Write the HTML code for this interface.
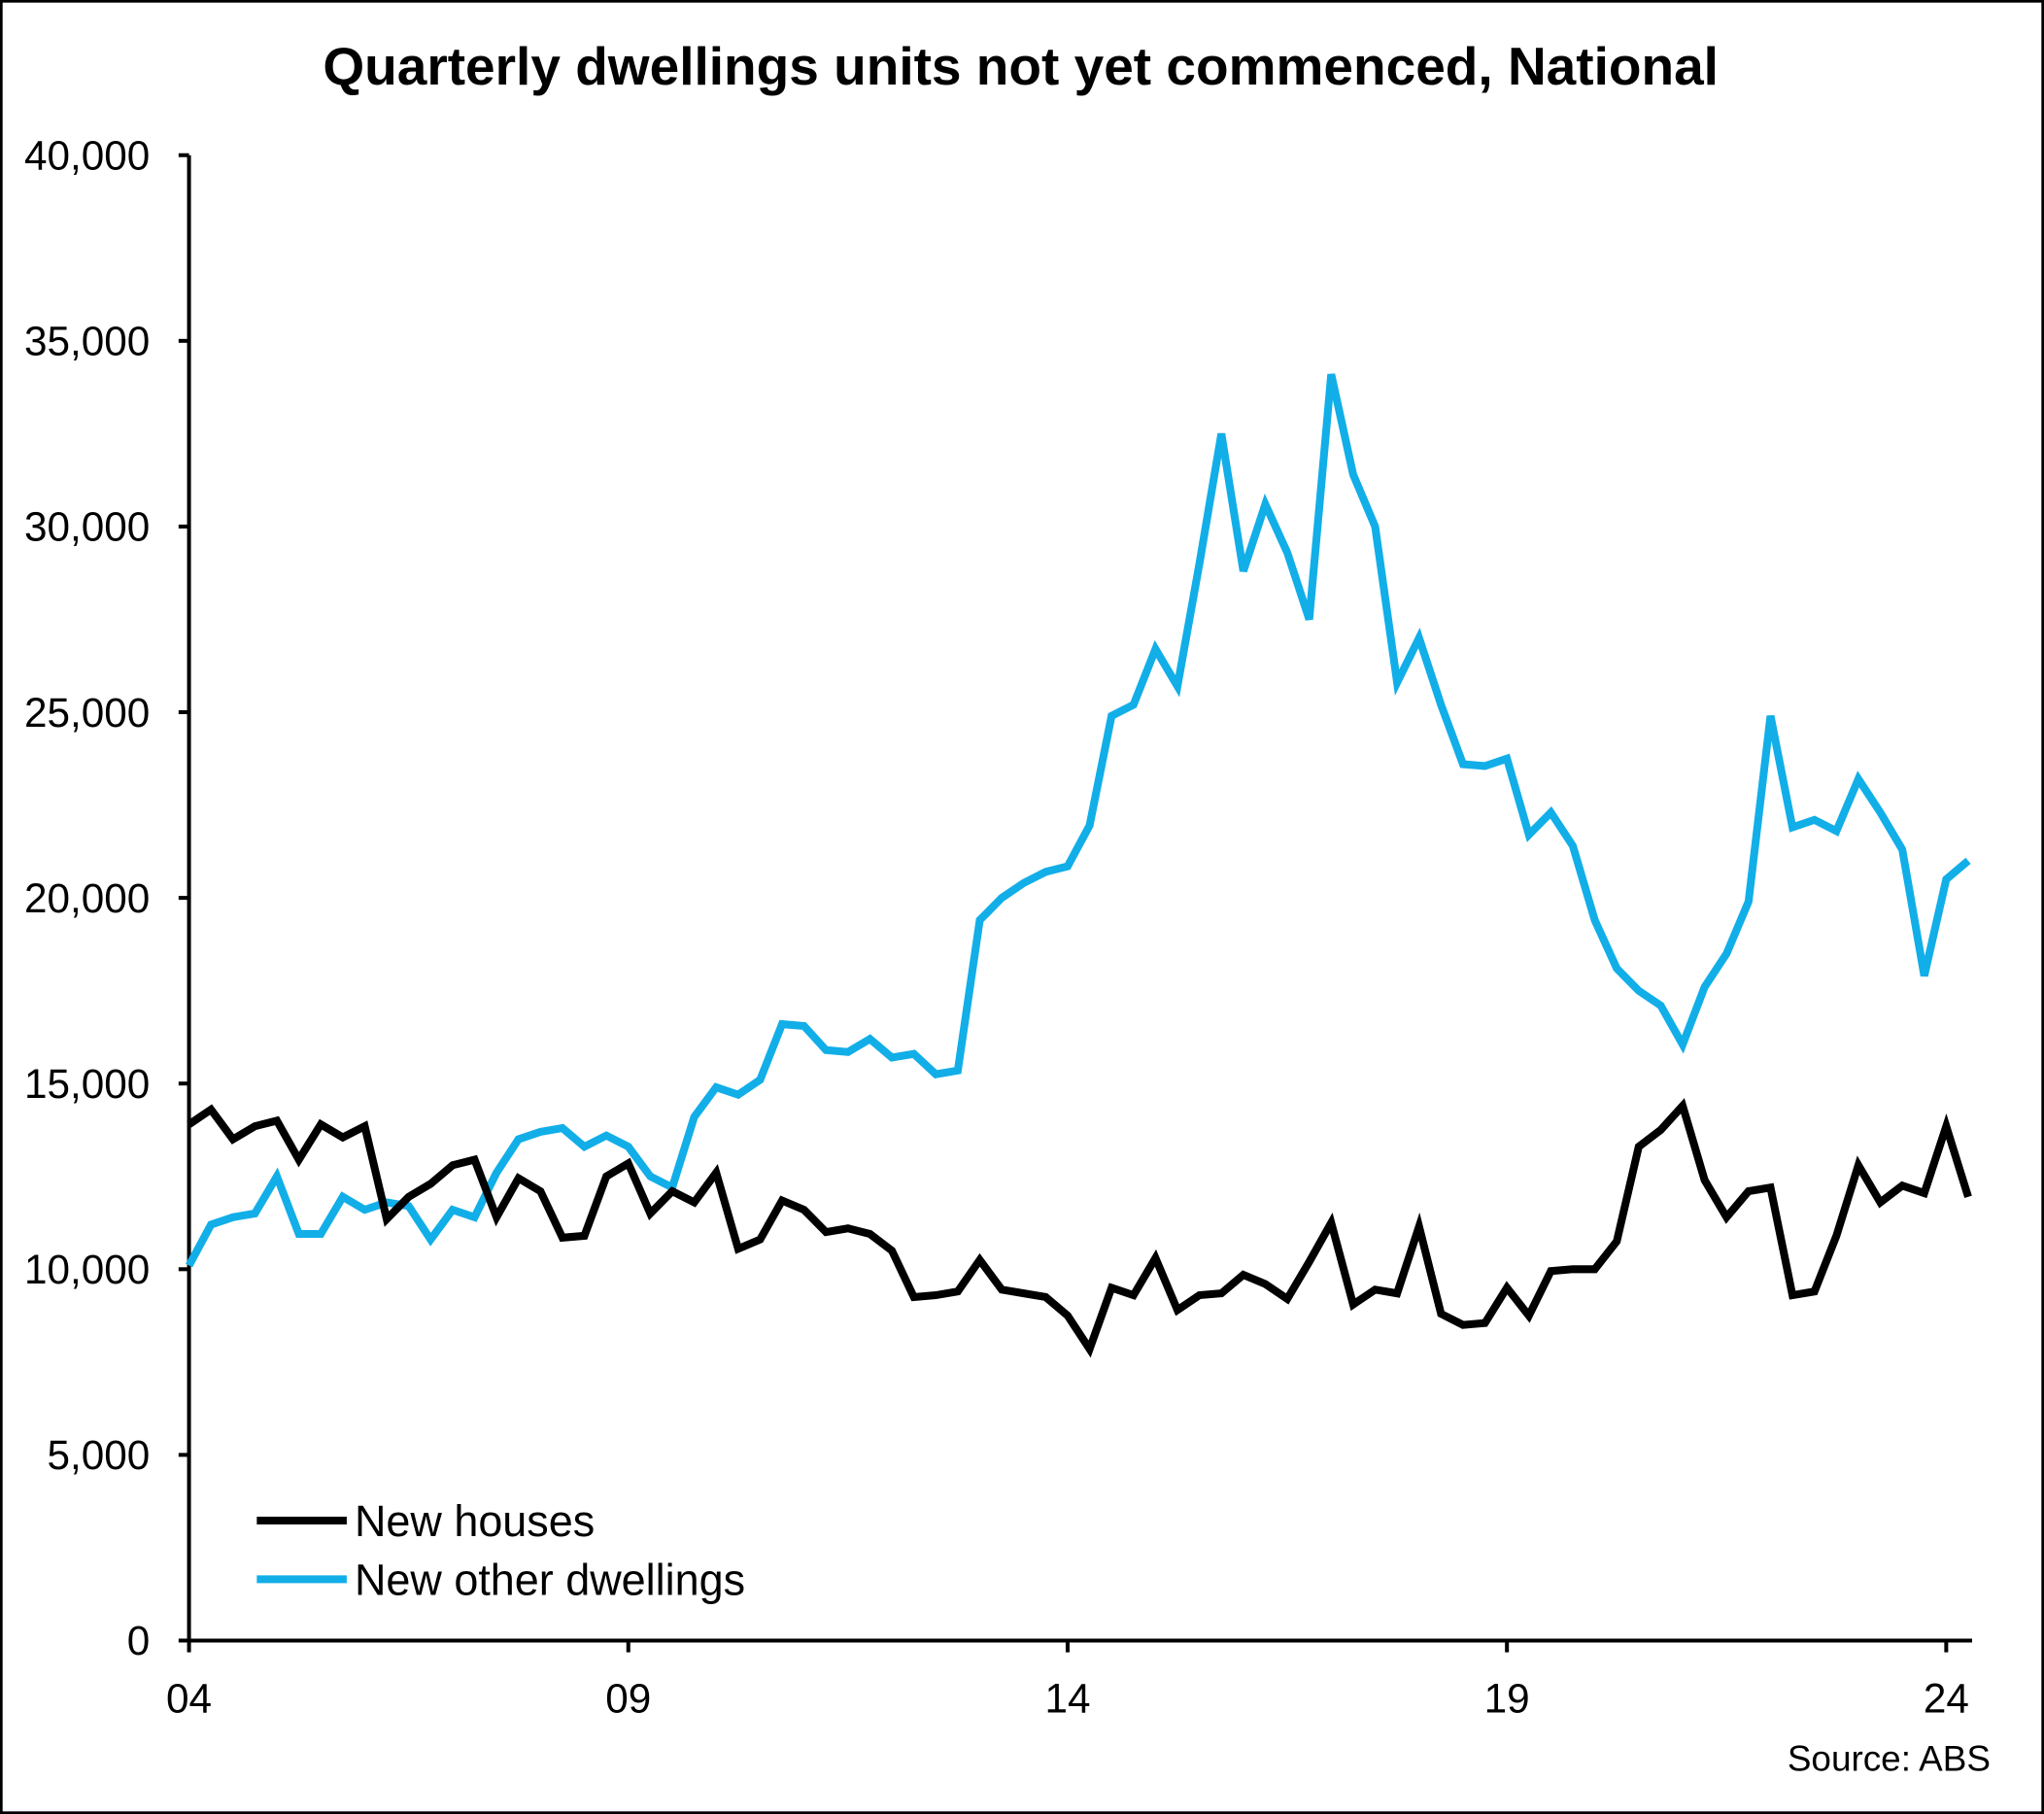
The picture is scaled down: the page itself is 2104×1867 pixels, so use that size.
<!DOCTYPE html>
<html><head><meta charset="utf-8"><style>
html,body{margin:0;padding:0;background:#fff}
svg{display:block}
text{font-family:"Liberation Sans",Arial,sans-serif;fill:#000}
</style></head><body>
<svg id="chart" width="2104" height="1867" viewBox="0 0 1568 1391" preserveAspectRatio="none" xmlns="http://www.w3.org/2000/svg">
<rect x="1" y="1" width="1566" height="1389" fill="#fff" stroke="#000" stroke-width="2"/>
<text x="783" y="65" text-anchor="middle" font-size="41" font-weight="bold">Quarterly dwellings units not yet commenced, National</text>
<g id="axes"></g>
<g id="series"></g>
<g>
<line x1="197" y1="1166" x2="266" y2="1166" stroke="#000" stroke-width="6"/>
<text x="272" y="1178" font-size="33.5">New houses</text>
<line x1="197" y1="1211" x2="266" y2="1211" stroke="#12aee8" stroke-width="6"/>
<text x="272" y="1223" font-size="33.5">New other dwellings</text>
</g>
<text x="1527" y="1358" text-anchor="end" font-size="27.5">Source: ABS</text>
</svg>
<script>
const yTicks=[0,5000,10000,15000,20000,25000,30000,35000,40000];
const xTickLabels=["04","09","14","19","24"];
const xTickIndex=[0,20,40,60,80];
const housesValues=[13900,14300,13500,13850,14000,12950,13900,13550,13850,11350,11950,12300,12800,12950,11400,12450,12100,10850,10900,12500,12850,11500,12100,11800,12600,10550,10800,11850,11600,11000,11100,10950,10500,9250,9300,9400,10250,9450,9350,9250,8750,7850,9500,9300,10300,8900,9300,9350,9850,9600,9200,10200,11250,9050,9450,9350,11150,8800,8500,8550,9500,8750,9950,10000,10000,10750,13300,13750,14400,12400,11400,12100,12200,9300,9400,10900,12800,11800,12250,12050,13850,11950];
const otherValues=[10100,11200,11400,11500,12500,10950,10950,11950,11600,11800,11700,10800,11600,11400,12600,13500,13700,13800,13300,13600,13300,12500,12200,14100,14900,14700,15100,16600,16550,15900,15850,16200,15700,15800,15250,15350,19400,20000,20400,20700,20850,21950,24900,25200,26700,25700,29000,32500,28800,30600,29300,27500,34100,31400,30000,25800,27000,25200,23600,23550,23750,21700,22300,21400,19400,18100,17500,17100,16050,17600,18500,19900,24900,21900,22100,21800,23200,22300,21300,17900,20500,21000];
const NS="http://www.w3.org/2000/svg";
const X0=145,QW=16.85,Y0=1258,Y1=119;
function xs(i){return X0+QW*i;}
function ys(v){return Y0-(v/40000)*(Y0-Y1);}
function mk(tag,attrs,parent){const e=document.createElementNS(NS,tag);for(const k in attrs)e.setAttribute(k,attrs[k]);parent.appendChild(e);return e;}
const axes=document.getElementById('axes');
const yAxis=mk('line',{x1:X0,y1:Y1,x2:X0,y2:Y0,stroke:'#000','stroke-width':3},axes);


const xEnd=xs(housesValues.length-1)+3;
const xAxis=mk('line',{x1:X0,y1:Y0,x2:xEnd,y2:Y0,stroke:'#000','stroke-width':3},axes);


yTicks.forEach(v=>{
  const y=ys(v);
  const t=mk('line',{x1:X0-8,y1:y,x2:X0,y2:y,stroke:'#000','stroke-width':3},axes);
  
  
  const l=mk('text',{x:X0-30,y:y+11,'text-anchor':'end','font-size':31.5},axes);
  
  
  l.textContent=v.toLocaleString('en-US');
});
xTickLabels.forEach((s,k)=>{
  const x=xs(xTickIndex[k]);
  const t=mk('line',{x1:x,y1:Y0,x2:x,y2:Y0+9,stroke:'#000','stroke-width':3},axes);
  
  
  const l=mk('text',{x:x,y:Y0+55,'text-anchor':'middle','font-size':31.5},axes);
  
  
  l.textContent=s;
});
const series=document.getElementById('series');
function draw(vals,color,name){
  const d=vals.map((v,i)=>(i?'L':'M')+xs(i).toFixed(2)+','+ys(v).toFixed(2)).join('');
  const p=mk('path',{d:d,fill:'none',stroke:color,'stroke-width':6,'stroke-linejoin':'miter'},series);
  
  
}
draw(otherValues,'#12aee8','line-new-other-dwellings');
draw(housesValues,'#000','line-new-houses');
</script>
</body></html>
